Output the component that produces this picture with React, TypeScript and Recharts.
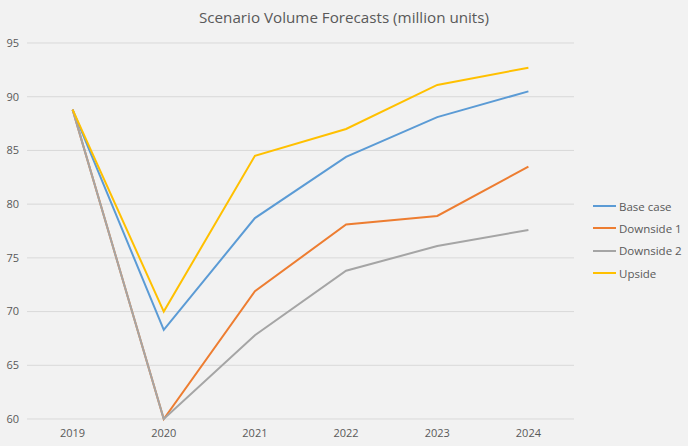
import { LineChart, Line, XAxis, YAxis, CartesianGrid } from "recharts";

const years = ["2019", "2020", "2021", "2022", "2023", "2024"];
const baseCase = [88.8, 68.3, 78.7, 84.4, 88.1, 90.5];
const downside1 = [88.8, 60.0, 71.9, 78.1, 78.9, 83.5];
const downside2 = [88.8, 60.0, 67.8, 73.8, 76.1, 77.6];
const upside = [88.8, 70.0, 84.5, 87.0, 91.1, 92.7];
const yTicks = [60, 65, 70, 75, 80, 85, 90, 95];

const series = [
  { key: "base", name: "Base case", color: "#5b9bd5" },
  { key: "down1", name: "Downside 1", color: "#ed7d31" },
  { key: "down2", name: "Downside 2", color: "#a5a5a5" },
  { key: "up", name: "Upside", color: "#ffc000" },
];

const data = years.map((y, i) => ({
  year: y,
  base: baseCase[i],
  down1: downside1[i],
  down2: downside2[i],
  up: upside[i],
}));

const FONT = "'Open Sans', 'Noto Sans', sans-serif";

export default function App() {
  return (
    <div style={{ position: "absolute", left: 0, top: 0, width: 688, height: 446, background: "#f2f2f2" }}>
      <div
        style={{
          position: "absolute",
          top: 7,
          width: 688,
          textAlign: "center",
          fontFamily: FONT,
          fontSize: 15.2,
          color: "#595959",
        }}
      >
        Scenario Volume Forecasts (million units)
      </div>
      <LineChart width={688} height={446} data={data} margin={{ top: 43, right: 114, bottom: 0, left: 0 }}>
        <CartesianGrid vertical={false} stroke="#d9d9d9" strokeWidth={1} />
        <XAxis
          dataKey="year"
          axisLine={false}
          tickLine={false}
          height={27}
          padding={{ left: 45.6, right: 45.6 }}
          tick={{ fill: "#595959", fontSize: 11, fontFamily: FONT }}
          tickMargin={4}
        />
        <YAxis
          domain={[60, 95]}
          ticks={yTicks}
          axisLine={false}
          tickLine={false}
          width={27}
          tick={{ fill: "#595959", fontSize: 11, fontFamily: FONT }}
          tickMargin={2}
        />
        {series.map((s) => (
          <Line
            key={s.key}
            type="linear"
            dataKey={s.key}
            name={s.name}
            stroke={s.color}
            strokeWidth={2}
            dot={false}
            isAnimationActive={false}
          />
        ))}
      </LineChart>
      <div
        style={{
          position: "absolute",
          left: 593,
          top: 195,
          fontFamily: FONT,
          fontSize: 11.5,
          color: "#595959",
        }}
      >
        {series.map((s) => (
          <div key={s.key} style={{ display: "flex", alignItems: "center", height: 22.3 }}>
            <div style={{ width: 23, height: 2, background: s.color, marginRight: 3 }} />
            <span>{s.name}</span>
          </div>
        ))}
      </div>
    </div>
  );
}
